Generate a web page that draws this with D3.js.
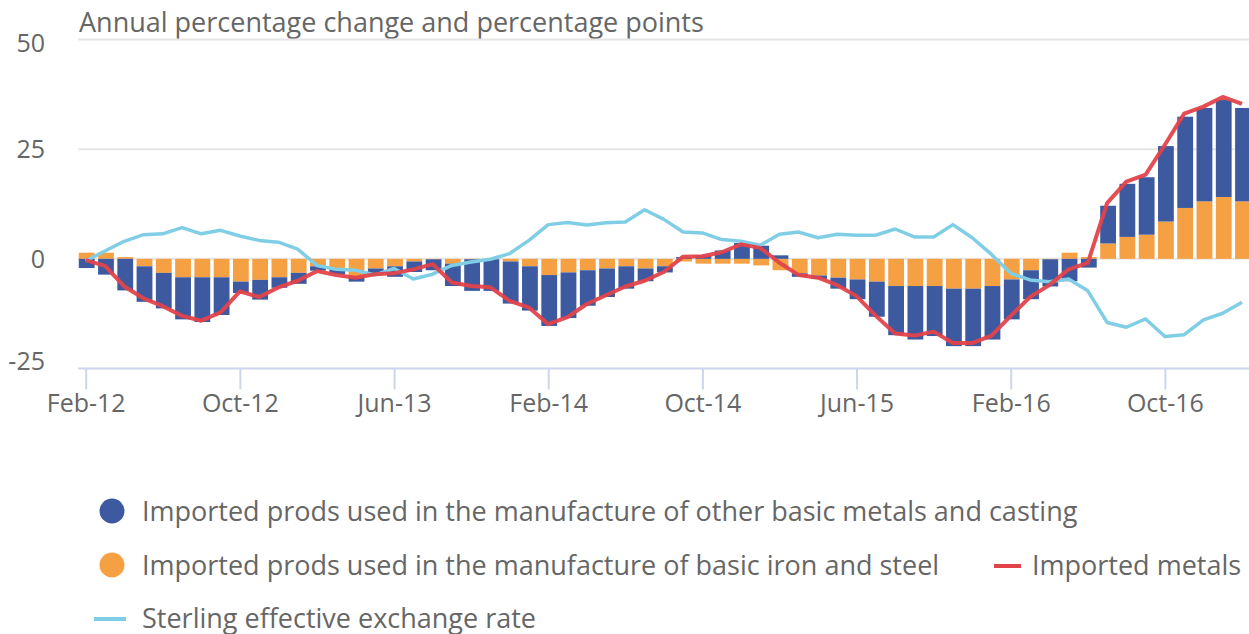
<!DOCTYPE html>
<head>
    <meta charset="utf-8">
    <script src="https://d3js.org/d3.v7.min.js"></script>
    <style>
      body { margin: 0; background: #fff; }
      text {
        font-family: "Open Sans", sans-serif;
        fill: #666666;
      }
      .charttitle { font-size: 27px; }
      .ticklabel { font-size: 25px; }
      .legendtext { font-size: 27px; }
    </style>
</head>
<body>
    <script>
        var svg_w = 1249
        var svg_h = 634

        // DATA
        var months = d3.timeMonths(new Date(2012, 1, 1), new Date(2017, 2, 1)).map(d3.timeFormat("%b-%y"))
        var tickLabels = ["Feb-12","Oct-12","Jun-13","Feb-14","Oct-14","Jun-15","Feb-16","Oct-16"]
        var yTicks = [-25, 0, 25, 50]

        // other basic metals and casting
        var otherMetals = [-2.1,-3.6,-7.2,-8.1,-8.1,-9.6,-10.2,-8.6,-2.6,-4.5,
          -2.4,-2.5,-1.0,-1.1,-0.9,-1.1,-2.4,-2.4,-2.5,-5.1,
          -7.2,-7.2,-9.6,-10.1,-11.6,-10.4,-8.1,-6.5,-5.1,-2.9,
          -1.4,0.4,0.8,1.9,3.6,3.0,0.8,-0.8,-0.8,-2.5,
          -4.5,-8.0,-11.2,-12.2,-11.4,-13.1,-13.1,-12.2,-9.1,-6.6,
          -6.2,-5.1,-2.0,8.6,12.1,13.1,17.2,20.8,21.3,22.1,21.3]
        // basic iron and steel
        var ironSteel = [1.4,1.4,0.4,-1.7,-3.2,-4.2,-4.2,-4.2,-5.2,-4.8,
          -4.2,-3.2,-1.7,-2.4,-4.3,-2.2,-1.7,-0.6,-0.1,-1.1,
          -0.1,-0.1,-0.6,-1.7,-3.7,-3.1,-2.6,-2.2,-1.7,-2.2,
          -1.7,-0.6,-1.1,-1.1,-1.1,-1.5,-2.6,-3.3,-3.8,-4.3,
          -4.7,-5.2,-6.2,-6.2,-6.2,-6.8,-6.8,-6.2,-4.7,-2.6,
          -0.1,1.4,0.4,3.5,5.0,5.5,8.5,11.6,13.1,14.1,13.1]
        var importedMetals = [-0.3,-1.6,-6.3,-9.0,-10.8,-13.0,-14.1,-12.2,-7.4,-8.7,
          -6.5,-5.0,-2.8,-3.7,-4.3,-3.5,-3.3,-2.4,-1.2,-5.4,
          -6.2,-6.5,-9.6,-11.1,-14.9,-13.3,-10.3,-8.3,-6.3,-5.0,
          -3.0,0.5,0.6,1.5,3.3,2.5,-0.9,-3.7,-4.3,-6.0,
          -8.5,-13.0,-17.0,-17.5,-16.6,-19.2,-19.2,-17.5,-13.0,-8.7,
          -6.0,-2.4,-0.9,12.7,17.6,19.2,26.0,33.1,34.7,36.9,35.3]
        var sterling = [-0.5,1.8,4.0,5.5,5.7,7.1,5.7,6.5,5.2,4.2,
          3.8,2.2,-1.5,-2.4,-2.6,-3.7,-2.2,-4.6,-3.5,-1.5,
          -0.7,-0.1,1.2,4.2,7.8,8.3,7.7,8.2,8.4,11.2,
          9.0,6.1,5.9,4.4,4.0,3.1,5.6,6.1,4.8,5.6,
          5.4,5.4,6.8,5.0,5.0,7.8,4.8,1.0,-3.3,-4.8,
          -5.2,-4.6,-7.3,-14.5,-15.6,-13.7,-17.7,-17.3,-13.9,-12.4,-9.9]

        var colors = {blue: "#3d59a0", orange: "#f6a044", red: "#e2434a", cyan: "#80cee5"}

        var svg = d3.select("body")
          .append("svg")
          .attr("width", svg_w)
          .attr("height", svg_h)

        var plotLeft = 78
        var x = d3.scalePoint().domain(months).range([85.7, 1242])
        var y = d3.scaleLinear().domain([-25, 50]).range([368.5, 39.5])
        var barW = x.step() * 0.82

        // title
        svg.append("text")
          .attr("class", "charttitle")
          .attr("x", 79)
          .attr("y", 32)
          .text("Annual percentage change and percentage points")

        // gridlines
        svg.append("g").selectAll("line")
          .data(yTicks.filter(function(d){ return d > -25 }))
          .enter().append("line")
          .attr("x1", plotLeft).attr("x2", svg_w)
          .attr("y1", function(d){ return y(d) }).attr("y2", function(d){ return y(d) })
          .attr("stroke", "#e6e6e6")
          .attr("stroke-width", 2)

        // y labels
        svg.append("g").selectAll("text")
          .data(yTicks)
          .enter().append("text")
          .attr("class", "ticklabel")
          .attr("text-anchor", "end")
          .attr("x", 45)
          .attr("y", function(d){ return Math.max(42.5, Math.min(361, y(d))) + 9 })
          .text(function(d){ return d })

        // x axis
        var xAxis = d3.axisBottom(x)
          .tickValues(tickLabels)
          .tickSize(21)
          .tickPadding(6)
        var gx = svg.append("g")
          .attr("transform", "translate(0," + y(-25) + ")")
          .call(xAxis)
        gx.select(".domain").remove()
        gx.append("line")
          .attr("x1", plotLeft).attr("x2", svg_w)
          .attr("stroke", "#ccd6eb").attr("stroke-width", 2)
        gx.selectAll(".tick line").attr("stroke", "#ccd6eb").attr("stroke-width", 2)
        gx.selectAll(".tick text")
          .attr("class", "ticklabel")
          .attr("fill", null)
          .attr("font-family", null)
          .attr("font-size", null)
          .attr("dy", null)
          .attr("y", 43)

        // stacked bars
        var rows = months.map(function(m, i){
          return {month: m, iron: ironSteel[i], other: otherMetals[i]}
        })
        var stack = d3.stack().keys(["iron", "other"]).offset(d3.stackOffsetDiverging)
        var layers = stack(rows)
        var barColor = {iron: colors.orange, other: colors.blue}

        svg.append("g").selectAll("g")
          .data(layers)
          .enter().append("g")
          .attr("fill", function(d){ return barColor[d.key] })
          .selectAll("rect")
          .data(function(d){ return d })
          .enter().append("rect")
          .attr("x", function(d){ return x(d.data.month) - barW / 2 + 1 })
          .attr("width", barW)
          .attr("y", function(d){ return y(Math.max(d[0], d[1])) })
          .attr("height", function(d){ return Math.abs(y(d[0]) - y(d[1])) })

        // lines
        var line = d3.line()
          .x(function(d, i){ return x(months[i]) })
          .y(function(d){ return y(d) })

        svg.append("path")
          .datum(sterling)
          .attr("d", line)
          .attr("fill", "none")
          .attr("stroke", colors.cyan)
          .attr("stroke-width", 3.5)
          .attr("stroke-linejoin", "round")

        svg.append("path")
          .datum(importedMetals)
          .attr("d", line)
          .attr("fill", "none")
          .attr("stroke", colors.red)
          .attr("stroke-opacity", 0.95)
          .attr("stroke-width", 4)
          .attr("stroke-linejoin", "round")

        // LEGEND
        var legend = svg.append("g")
        legend.append("circle").attr("cx", 112).attr("cy", 511).attr("r", 12.5).attr("fill", colors.blue)
        legend.append("text").attr("class", "legendtext").attr("x", 142).attr("y", 521)
          .text("Imported prods used in the manufacture of other basic metals and casting")
        legend.append("circle").attr("cx", 112).attr("cy", 565).attr("r", 12.5).attr("fill", colors.orange)
        legend.append("text").attr("class", "legendtext").attr("x", 142).attr("y", 575)
          .text("Imported prods used in the manufacture of basic iron and steel")
        legend.append("line").attr("x1", 994).attr("x2", 1021).attr("y1", 566).attr("y2", 566)
          .attr("stroke", colors.red).attr("stroke-width", 4)
        legend.append("text").attr("class", "legendtext").attr("x", 1032).attr("y", 575)
          .text("Imported metals")
        legend.append("line").attr("x1", 94).attr("x2", 126).attr("y1", 619).attr("y2", 619)
          .attr("stroke", colors.cyan).attr("stroke-width", 4)
        legend.append("text").attr("class", "legendtext").attr("x", 142).attr("y", 628)
          .text("Sterling effective exchange rate")
    </script>
</body>
